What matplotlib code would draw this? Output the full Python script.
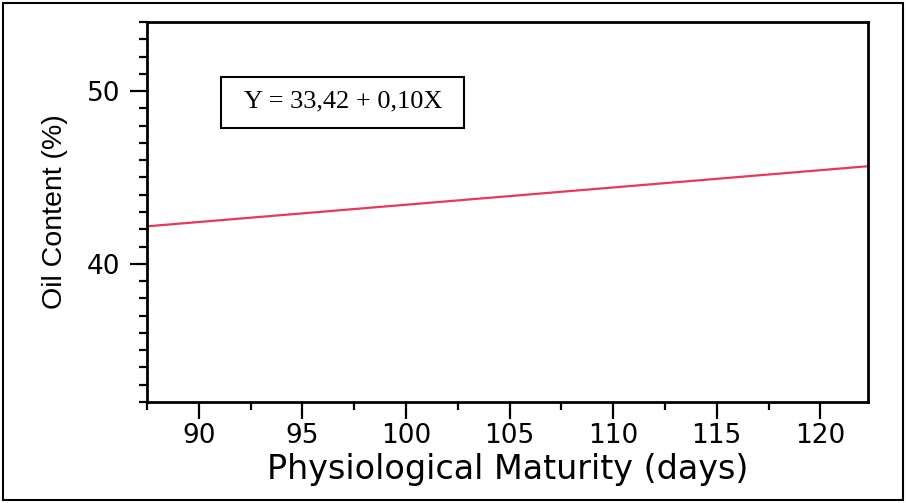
import numpy as np
import matplotlib.pyplot as plt
from matplotlib.patches import Rectangle
from matplotlib.ticker import MultipleLocator

# regression of oil content on days to physiological maturity
intercept = 33.42
slope = 0.10
x_range = [87.5, 122.3]
x_ticks = [90, 95, 100, 105, 110, 115, 120]
y_ticks = [40, 50]

fig = plt.figure(figsize=(9.06, 5.03), dpi=100)
ax = fig.add_axes([0.1623, 0.2008, 0.7957, 0.7555])

x = np.array(x_range)
ax.plot(x, intercept + slope * x, color='#e8365d', lw=1.6)

ax.set_xlim(x_range)
ax.set_ylim(32, 54)
ax.set_xticks(x_ticks)
ax.set_yticks(y_ticks)
ax.xaxis.set_minor_locator(MultipleLocator(2.5))
ax.yaxis.set_minor_locator(MultipleLocator(1))

ax.tick_params(which='major', direction='out', length=12, width=1.6,
               labelsize=19, pad=3)
ax.tick_params(axis='y', which='major', pad=7)
ax.tick_params(which='minor', direction='out', length=6, width=1.6)
for lab in ax.get_xticklabels() + ax.get_yticklabels():
    lab.set_family('DejaVu Sans')
for s in ax.spines.values():
    s.set_linewidth(2)

ax.set_xlabel('Physiological Maturity (days)', family='DejaVu Sans',
              fontsize=24, labelpad=3)
ax.set_ylabel('Oil Content (%)', family='Liberation Sans',
              fontsize=20.5, labelpad=14)

# equation box
ax.add_patch(Rectangle((0.103, 0.721), 0.337, 0.134, transform=ax.transAxes,
                       fill=False, ec='black', lw=1.5))
ax.text(0.2715, 0.79, 'Y = 33,42 + 0,10X', transform=ax.transAxes,
        family='Liberation Serif', fontsize=19, ha='center', va='center')

# frame round the whole figure
fig.patches.append(Rectangle((0.003, 0.006), 0.994, 0.988,
                             transform=fig.transFigure, fill=False,
                             ec='black', lw=1.5))

fig.savefig('out.png', dpi=100)
